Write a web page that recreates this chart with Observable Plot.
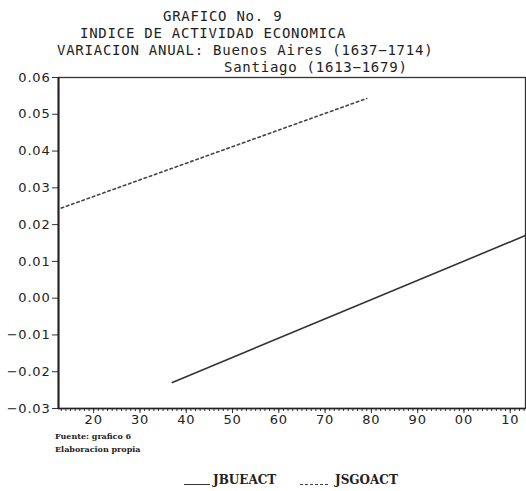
<!DOCTYPE html>
<html><head><meta charset="utf-8">
<script src="https://cdn.jsdelivr.net/npm/d3@7"></script>
<script src="https://cdn.jsdelivr.net/npm/@observablehq/plot@0.6"></script>
<style>
body{margin:0;background:#fff;width:526px;height:491px;position:relative;overflow:hidden}
.t{position:absolute;font-family:"DejaVu Sans Mono";font-size:14px;color:#222;white-space:pre;line-height:13px;letter-spacing:0.75px}
#chart{position:absolute;left:0;top:70px}
#chart text{letter-spacing:0.8px}
.cap{position:absolute;left:55px;font-family:"DejaVu Serif";font-weight:bold;font-size:8px;line-height:8px;color:#222;white-space:pre}
.leg{position:absolute;top:474px;font-family:"DejaVu Serif";font-weight:bold;font-size:12px;line-height:13px;color:#222;white-space:pre}
.sw{position:absolute;top:484px;height:0;border-top:1.5px solid #333}
.sd{position:absolute;top:484px;height:0;border-top:1.5px dashed #444}
</style></head>
<body>
<div class="t" style="left:163px;top:10px">GRAFICO No. 9</div>
<div class="t" style="left:80px;top:27px">INDICE DE ACTIVIDAD ECONOMICA</div>
<div class="t" style="left:57px;top:44px">VARIACION ANUAL: Buenos Aires (1637−1714)</div>
<div class="t" style="left:224px;top:61px">Santiago (1613−1679)</div>
<div id="chart"></div>
<div class="cap" style="top:432px">Fuente: grafico 6</div>
<div class="cap" style="top:445px">Elaboracion propia</div>
<div class="sw" style="left:184px;width:26px"></div>
<div class="leg" style="left:213px">JBUEACT</div>
<div class="sd" style="left:300px;width:28px"></div>
<div class="leg" style="left:335px">JSGOACT</div>
<script>
// Data
const buYears = [1637, 1714];
const buValues = [-0.0229, 0.0174];
const sgYears = [1613, 1679];
const sgValues = [0.0245, 0.0543];
const xTicks = [1620, 1630, 1640, 1650, 1660, 1670, 1680, 1690, 1700, 1710];
const xTickLabels = ["20", "30", "40", "50", "60", "70", "80", "90", "00", "10"];
const minorTicks = d3.range(1613, 1714);
const yTicks = [-0.03, -0.02, -0.01, 0.00, 0.01, 0.02, 0.03, 0.04, 0.05, 0.06];

const bu = buYears.map((x, i) => ({x, y: buValues[i]}));
const sg = sgYears.map((x, i) => ({x, y: sgValues[i]}));

const plot = Plot.plot({
  width: 526, height: 358,
  marginLeft: 58, marginRight: 1, marginTop: 7, marginBottom: 20,
  x: {domain: [1612.4, 1713.3], axis: null},
  y: {domain: [-0.03, 0.06], axis: null},
  style: {background: "transparent", overflow: "visible", fontFamily: "DejaVu Sans", fontSize: "13px", color: "#222"},
  marks: [
    Plot.axisY(yTicks, {label: null, tickSize: 6, tickPadding: 2, tickFormat: d => d3.format(".2f")(d), stroke: "#333"}),
    Plot.axisX(minorTicks, {label: null, tickSize: 3, tickFormat: () => "", stroke: "#333"}),
    Plot.axisX(xTicks, {label: null, tickSize: 5, tickPadding: 1, tickFormat: d => xTickLabels[xTicks.indexOf(d)], stroke: "#333"}),
    Plot.frame({stroke: "#333", strokeWidth: 1.3}),
    Plot.ruleX([1612.4], {stroke: "#222", strokeWidth: 2}),
    Plot.ruleY([-0.03], {stroke: "#222", strokeWidth: 1.5}),
    Plot.line(bu, {x: "x", y: "y", stroke: "#333", strokeWidth: 1.6, clip: true}),
    Plot.line(sg, {x: "x", y: "y", stroke: "#444", strokeWidth: 1.6, strokeDasharray: "2.5,3", clip: true})
  ]
});
document.getElementById("chart").appendChild(plot);
</script>
</body></html>
